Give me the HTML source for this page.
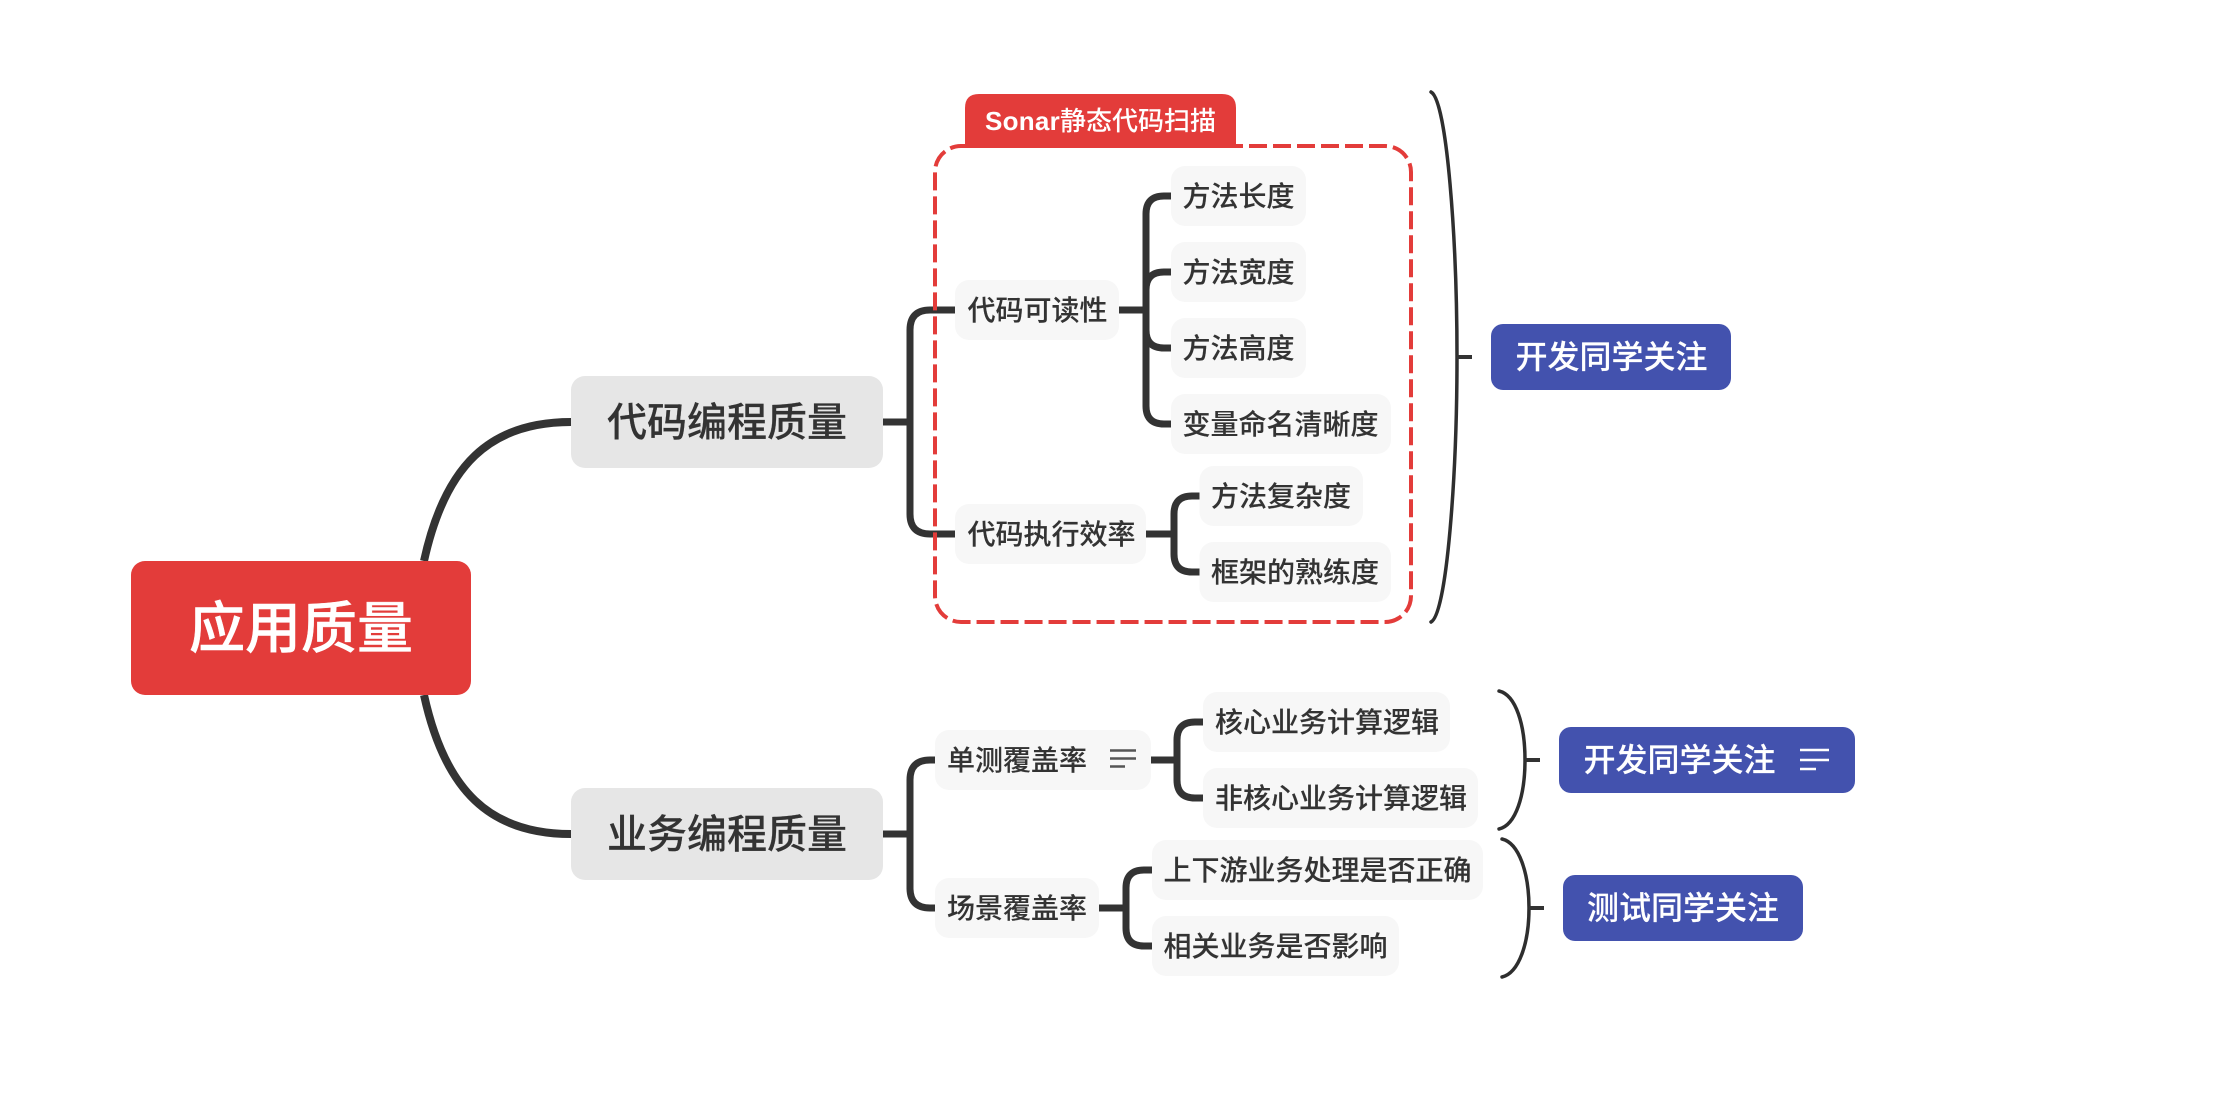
<!DOCTYPE html>
<html lang="zh">
<head>
<meta charset="utf-8">
<title>应用质量</title>
<style>
html,body{margin:0;padding:0;background:#fff;width:2222px;height:1110px;overflow:hidden}
svg{display:block}
text{font-family:"Liberation Sans","Noto Sans CJK SC",sans-serif;font-weight:500}
.c{fill:none;stroke:#333;stroke-width:7}
.b{fill:none;stroke:#2e2e2e;stroke-width:3.5;stroke-linecap:round}
.n{fill:#f7f7f7}
.t{font-size:28px;fill:#333;stroke:#333;stroke-width:.12}
.w{font-size:32px;fill:#fff;stroke:#fff;stroke-width:.15}
.l{font-size:40px;fill:#333;stroke:#333;stroke-width:.15}
</style>
</head>
<body>
<svg width="2222" height="1110" viewBox="0 0 2222 1110" xmlns="http://www.w3.org/2000/svg">
<rect width="2222" height="1110" fill="#fff"/>

<!-- main curves -->
<path d="M424 561C445 465 490 422 571 422" fill="none" stroke="#333" stroke-width="8"/>
<path d="M424 695C445 791 490 834 571 834" fill="none" stroke="#333" stroke-width="8"/>

<!-- L1 to L2 -->
<path class="c" d="M883 422H910"/>
<path class="c" d="M955 310H930Q910 310 910 330V514Q910 534 930 534H955"/>
<path class="c" d="M883 834H910"/>
<path class="c" d="M935 760H930Q910 760 910 780V888Q910 908 930 908H935"/>

<!-- L2 to L3 -->
<path class="c" d="M1119 310H1146"/>
<path class="c" d="M1171 196H1164Q1146 196 1146 214V406Q1146 424 1164 424H1171"/>
<path class="c" d="M1171 272H1164Q1146 272 1146 290V330Q1146 348 1164 348H1171"/>
<path class="c" d="M1146 534H1174"/>
<path class="c" d="M1200 496H1192Q1174 496 1174 514V554Q1174 572 1192 572H1200"/>
<path class="c" d="M1151 760H1177"/>
<path class="c" d="M1203 722H1195Q1177 722 1177 740V780Q1177 798 1195 798H1203"/>
<path class="c" d="M1099 908H1126"/>
<path class="c" d="M1152 870H1144Q1126 870 1126 888V928Q1126 946 1144 946H1152"/>

<!-- dashed boundary -->
<rect x="935" y="146" width="476" height="476" rx="26" ry="26" fill="none" stroke="#e33c3a" stroke-width="4" stroke-dasharray="18 6"/>
<path d="M965 148V108Q965 94 979 94H1222Q1236 94 1236 108V148Z" fill="#e33c3a"/>
<text x="985" y="130" font-size="26" fill="#fff"><tspan font-weight="700" letter-spacing=".25">Sonar</tspan>静态代码扫描</text>

<!-- root -->
<rect x="131" y="561" width="340" height="134" rx="14" fill="#e33c3a"/>
<text x="301" y="648" font-size="56" fill="#fff" stroke="#fff" stroke-width=".4" text-anchor="middle">应用质量</text>

<!-- L1 -->
<rect x="571" y="376" width="312" height="92" rx="14" fill="#e6e6e6"/>
<text class="l" x="727" y="436" text-anchor="middle">代码编程质量</text>
<rect x="571" y="788" width="312" height="92" rx="14" fill="#e6e6e6"/>
<text class="l" x="727" y="848" text-anchor="middle">业务编程质量</text>

<!-- L2 and L3 -->
<rect class="n" x="955" y="280" width="164" height="60" rx="14"/>
<text class="t" x="967.5" y="320">代码可读性</text>
<rect class="n" x="955" y="504" width="191" height="60" rx="14"/>
<text class="t" x="967.5" y="544">代码执行效率</text>

<rect class="n" x="1171" y="166" width="135" height="60" rx="14"/>
<text class="t" x="1182.5" y="206">方法长度</text>
<rect class="n" x="1171" y="242" width="135" height="60" rx="14"/>
<text class="t" x="1182.5" y="282">方法宽度</text>
<rect class="n" x="1171" y="318" width="135" height="60" rx="14"/>
<text class="t" x="1182.5" y="358">方法高度</text>
<rect class="n" x="1171" y="394" width="220" height="60" rx="14"/>
<text class="t" x="1182.5" y="434">变量命名清晰度</text>
<rect class="n" x="1199.5" y="466" width="163.5" height="60" rx="14"/>
<text class="t" x="1211" y="506">方法复杂度</text>
<rect class="n" x="1199.5" y="542" width="191.5" height="60" rx="14"/>
<text class="t" x="1211" y="582">框架的熟练度</text>

<rect class="n" x="935" y="730" width="216" height="60" rx="14"/>
<text class="t" x="947" y="770">单测覆盖率</text>
<path d="M1110 750.5H1136M1110 758.5H1136M1110 766.5H1125" stroke="#555" stroke-width="2.5" fill="none"/>
<rect class="n" x="935" y="878" width="164" height="60" rx="14"/>
<text class="t" x="947" y="918">场景覆盖率</text>

<rect class="n" x="1203" y="692" width="247" height="60" rx="14"/>
<text class="t" x="1215" y="732">核心业务计算逻辑</text>
<rect class="n" x="1203" y="768" width="275" height="60" rx="14"/>
<text class="t" x="1215" y="808">非核心业务计算逻辑</text>
<rect class="n" x="1152" y="840" width="331" height="60" rx="14"/>
<text class="t" x="1163.5" y="880">上下游业务处理是否正确</text>
<rect class="n" x="1152" y="916" width="247" height="60" rx="14"/>
<text class="t" x="1163.5" y="956">相关业务是否影响</text>

<!-- braces -->
<path class="b" d="M1431 92C1447 100 1457 240 1457 357C1457 474 1447 614 1431 622"/>
<path d="M1457 357H1472" stroke="#333" stroke-width="4"/>
<path class="b" d="M1499 691C1516 695 1525 725 1525 760C1525 795 1516 825 1499 829"/>
<path d="M1525 760H1540" stroke="#333" stroke-width="4"/>
<path class="b" d="M1502 839C1519 843 1529 873 1529 908C1529 943 1519 973 1502 977"/>
<path d="M1529 908H1544" stroke="#333" stroke-width="4"/>

<!-- summaries -->
<rect x="1491" y="324" width="240" height="66" rx="12" fill="#4352ae"/>
<text class="w" x="1611.5" y="368" text-anchor="middle">开发同学关注</text>
<rect x="1559" y="727" width="296" height="66" rx="12" fill="#4352ae"/>
<text class="w" x="1583.5" y="771">开发同学关注</text>
<path d="M1800 750H1829M1800 760H1829M1800 769H1816" stroke="#fff" stroke-width="2.5" fill="none"/>
<rect x="1563" y="875" width="240" height="66" rx="12" fill="#4352ae"/>
<text class="w" x="1683" y="919" text-anchor="middle">测试同学关注</text>
</svg>
</body>
</html>
